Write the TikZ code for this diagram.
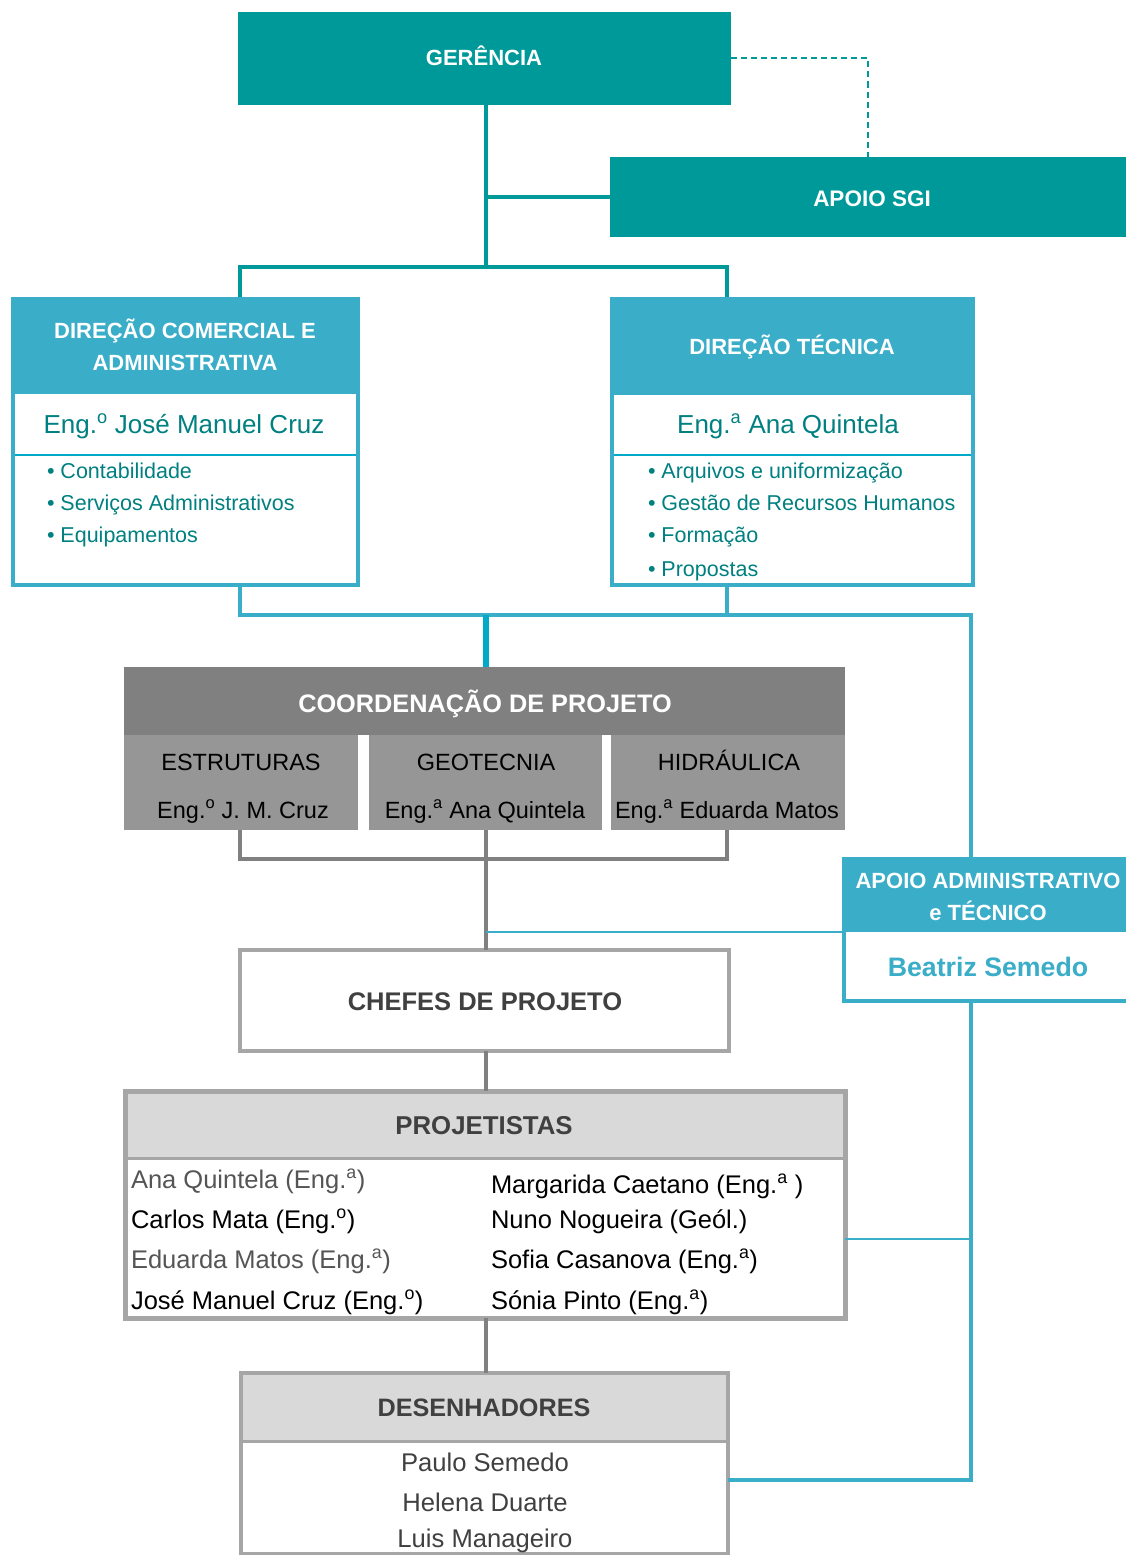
\documentclass[tikz,border=0pt]{standalone}
\usepackage{fontspec}
\setmainfont{Liberation Sans}
\usetikzlibrary{calc}
\definecolor{tealA}{RGB}{0,153,153}
\definecolor{blueA}{RGB}{58,173,200}
\definecolor{cyanA}{RGB}{0,170,200}
\definecolor{tealT}{RGB}{0,128,128}
\definecolor{grayH}{RGB}{128,128,128}
\definecolor{grayS}{RGB}{150,150,150}
\definecolor{grayB}{RGB}{166,166,166}
\definecolor{grayL}{RGB}{217,217,217}
\definecolor{grayT}{RGB}{64,64,64}
\definecolor{grayN}{RGB}{85,85,85}
\newcommand{\fsz}[1]{\fontsize{#1}{#1}\selectfont}
\newcommand{\sa}{\textsuperscript{a}}
\newcommand{\so}{\textsuperscript{o}}
\begin{document}
\begin{tikzpicture}[x=1pt,y=-1pt,
  rbox/.style={anchor=north west, inner sep=0pt, outer sep=0pt},
  lbl/.style={anchor=base, inner sep=0pt, outer sep=0pt},
  lblw/.style={anchor=base west, inner sep=0pt, outer sep=0pt},
  hdr/.style={lbl, text=white, font=\bfseries\fsz{22}},
  tealline/.style={draw=tealA, line width=4pt},
  blueline/.style={draw=blueA, line width=3.5pt},
  bluethin/.style={draw=blueA, line width=2.5pt},
  grayline/.style={draw=grayH, line width=4pt},
  bulletitem/.style={lblw, text=tealT, font=\fsz{21.5}},
  subtxt/.style={lbl, text=black, font=\fsz{23.5}},
  pname/.style={lblw, font=\fsz{25.5}},
  dname/.style={lbl, text=grayT, font=\fsz{25.6}}
]
\useasboundingbox (0,0) rectangle (1126,1555);
\fill[white] (0,0) rectangle (1126,1555);

% column coordinates
\coordinate (cL) at (240,0);
\coordinate (cM) at (486,0);
\coordinate (cR) at (727,0);
\coordinate (cA) at (971,0);
\coordinate (barT) at (486,267);
\coordinate (barB) at (486,615);
\coordinate (barG) at (486,859);
\coordinate (pj) at (971,1239);
\coordinate (dj) at (971,1480);

% GERENCIA
\node[rbox, fill=tealA, minimum width=493pt, minimum height=93pt] (ger) at (238,12) {};
\node[hdr] (gert) at (484,66) {GERÊNCIA};
% APOIO SGI
\node[rbox, fill=tealA, minimum width=516pt, minimum height=80pt] (sgi) at (610,157) {};
\node[hdr, font=\bfseries\fsz{22.5}] (sgit) at (872,206) {APOIO SGI};

\draw[draw=tealA, line width=2pt, dash pattern=on 6pt off 4pt] (ger.east) -| (sgi.north);
\draw[tealline] (cM |- ger.south) -- (barT);
\draw[tealline] (cM |- sgi.west) -- (sgi.west);

% DIRECAO COMERCIAL
\node[rbox, fill=blueA, minimum width=349pt, minimum height=95pt] (dcah) at (11,297) {};
\node[rbox, draw=blueA, line width=4pt, fill=white, minimum width=345pt, minimum height=193pt] (dcab) at (13,392) {};
\draw[cyanA, line width=2pt] ($(dcab.north west)+(2,63)$) -- ($(dcab.north east)+(-2,63)$);
\node[hdr] (dca1) at (185,338) {DIREÇÃO COMERCIAL E};
\node[hdr] (dca2) at (185,370) {ADMINISTRATIVA};
\node[lbl, text=tealT, font=\fsz{26}] (dcan) at (184,433) {Eng.\so{} José Manuel Cruz};
\node[bulletitem] (dci1) at (47,478) {• Contabilidade};
\node[bulletitem] (dci2) at (47,510) {• Serviços Administrativos};
\node[bulletitem] (dci3) at (47,542) {• Equipamentos};

% DIRECAO TECNICA
\node[rbox, fill=blueA, minimum width=365pt, minimum height=96pt] (dth) at (610,297) {};
\node[rbox, draw=blueA, line width=4pt, fill=white, minimum width=361pt, minimum height=192pt] (dtb) at (612,393) {};
\draw[cyanA, line width=2pt] ($(dtb.north west)+(2,62)$) -- ($(dtb.north east)+(-2,62)$);
\node[hdr] (dtt) at (792,354) {DIREÇÃO TÉCNICA};
\node[lbl, text=tealT, font=\fsz{26}] (dtn) at (788,433) {Eng.\sa{} Ana Quintela};
\node[bulletitem] (dti1) at (648,478) {• Arquivos e uniformização};
\node[bulletitem] (dti2) at (648,510) {• Gestão de Recursos Humanos};
\node[bulletitem] (dti3) at (648,542) {• Formação};
\node[bulletitem] (dti4) at (648,576) {• Propostas};

\draw[tealline] (cL |- dcah.north) -- (cL |- barT) -- (cR |- barT) -- (cR |- dth.north);

% COORDENACAO
\node[rbox, fill=grayH, minimum width=721pt, minimum height=68pt] (coh) at (124,667) {};
\node[lbl, text=white, font=\bfseries\fsz{25.3}] (coht) at (485,712) {COORDENAÇÃO DE PROJETO};
\node[rbox, fill=grayS, minimum width=234pt, minimum height=95pt] (est) at (124,735) {};
\node[rbox, fill=grayS, minimum width=233pt, minimum height=95pt] (geo) at (369,735) {};
\node[rbox, fill=grayS, minimum width=234pt, minimum height=95pt] (hid) at (611,735) {};
\node[subtxt] (est1) at (241,770) {ESTRUTURAS};
\node[subtxt] (est2) at (243,818) {Eng.\so{} J. M. Cruz};
\node[subtxt] (geo1) at (486,770) {GEOTECNIA};
\node[subtxt] (geo2) at (485,818) {Eng.\sa{} Ana Quintela};
\node[subtxt] (hid1) at (729,770) {HIDRÁULICA};
\node[subtxt] (hid2) at (727,818) {Eng.\sa{} Eduarda Matos};

% APOIO ADMINISTRATIVO
\node[rbox, fill=blueA, minimum width=284pt, minimum height=75pt] (aath) at (842,857) {};
\node[rbox, fill=white, minimum width=282pt, minimum height=69pt] (aatb) at (844,932) {};
\draw[draw=blueA, line width=3.5pt] (aatb.north west) |- (aatb.south east);
\node[hdr] (aat1) at (988,888) {APOIO ADMINISTRATIVO};
\node[hdr] (aat2) at (988,920) {e TÉCNICO};
\node[lbl, text=blueA, font=\bfseries\fsz{26.7}] (aatn) at (988,976) {Beatriz Semedo};

% blue connectors
\draw[blueline] (cL |- dcab.south) -- (cL |- barB) -- (cA |- barB) -- (cA |- aath.north);
\draw[blueline] (cR |- dtb.south) -- (cR |- barB);
\draw[draw=cyanA, line width=6pt] (barB) -- (cM |- coh.north);

% gray connectors below coordination
\draw[grayline] (cL |- est.south) -- (cL |- barG) -- (cR |- barG) -- (cR |- hid.south);

% CHEFES
\node[rbox, draw=grayB, line width=4pt, fill=white, minimum width=489pt, minimum height=101pt] (chf) at (240,950) {};
\node[lbl, text=grayT, font=\bfseries\fsz{25.5}] (chft) at (485,1010) {CHEFES DE PROJETO};
\draw[grayline] (cM |- geo.south) -- (cM |- chf.north);
\draw[bluethin] (cM |- aath.south west) -- (aath.south west);

% PROJETISTAS
\node[rbox, fill=grayL, minimum width=720pt, minimum height=67pt] (projh) at (125,1091) {};
\node[rbox, draw=grayB, line width=5pt, minimum width=720pt, minimum height=227pt] (proj) at (125,1091) {};
\draw[grayB, line width=3pt] (projh.south west) -- (projh.south east);
\node[lbl, text=grayT, font=\bfseries\fsz{25.8}] (projt) at (484,1134) {PROJETISTAS};
\node[pname, text=grayN] (p1) at (131,1188) {Ana Quintela (Eng.\sa)};
\node[pname, text=black] (p2) at (131,1228) {Carlos Mata (Eng.\so)};
\node[pname, text=grayN] (p3) at (131,1268) {Eduarda Matos (Eng.\sa)};
\node[pname, text=black] (p4) at (131,1309) {José Manuel Cruz (Eng.\so)};
\node[pname, text=black] (p5) at (491,1193) {Margarida Caetano (Eng.\sa{} )};
\node[pname, text=black] (p6) at (491,1228) {Nuno Nogueira (Geól.)};
\node[pname, text=black] (p7) at (491,1268) {Sofia Casanova (Eng.\sa)};
\node[pname, text=black] (p8) at (491,1309) {Sónia Pinto (Eng.\sa)};
\draw[grayline] (cM |- chf.south) -- (cM |- proj.north);

% DESENHADORES
\node[rbox, fill=grayL, minimum width=487pt, minimum height=68pt] (desh) at (241,1373) {};
\node[rbox, draw=grayB, line width=4.5pt, minimum width=487pt, minimum height=181pt] (des) at (241,1373) {};
\draw[grayB, line width=3pt] (desh.south west) -- (desh.south east);
\node[lbl, text=grayT, font=\bfseries\fsz{25.2}] (dest) at (484,1416) {DESENHADORES};
\node[dname] (d1) at (485,1471) {Paulo Semedo};
\node[dname] (d2) at (485,1511) {Helena Duarte};
\node[dname] (d3) at (485,1547) {Luis Manageiro};
\draw[grayline] (cM |- proj.south) -- (cM |- des.north);

% blue connectors on the right
\draw[blueline] (cA |- aatb.south) -- (dj) -- (dj -| des.east);
\draw[bluethin] (pj) -- (pj -| proj.east);
\end{tikzpicture}
\end{document}
